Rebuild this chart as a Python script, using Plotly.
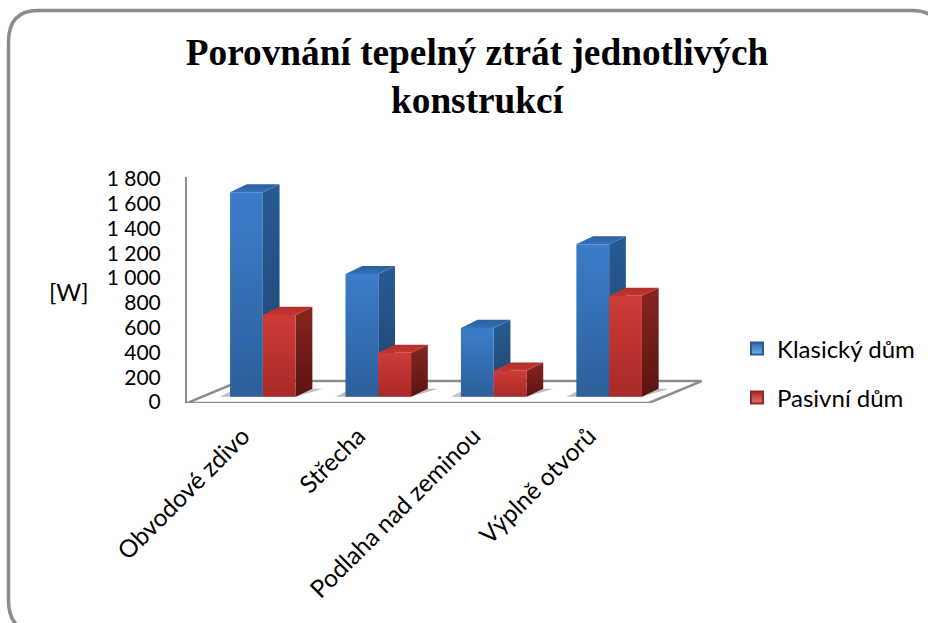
import plotly.graph_objects as go

# Data
categories = ["Obvodové zdivo", "Střecha", "Podlaha nad zeminou", "Výplně otvorů"]
klasicky = [1650, 990, 555, 1230]
pasivni = [660, 355, 210, 815]
tick_values = [0, 200, 400, 600, 800, 1000, 1200, 1400, 1600, 1800]
tick_labels = ["0", "200", "400", "600", "800", "1 000", "1 200", "1 400", "1 600", "1 800"]

W, H = 928, 623
LEFT, RIGHT, TOP, BOTTOM = 187, 718, 177, 403
XR = [-0.5, 4.1]
YR = [-16, 1808]
GREY = "#8c8c8c"

# fake 3D: depth of a bar, and where its front plane sits on the floor
BAR_W = 0.284
BAR_DX, BAR_DY = 0.145, 65
BASE_DX, BASE_Y = 0.157, 35
# floor depth
FLOOR_DX, FLOOR_DY = 0.459, 177


def px(x):
    return (x - LEFT) / (RIGHT - LEFT)


def py(y):
    return (BOTTOM - y) / (BOTTOM - TOP)


def poly(fig, xs, ys, top_col, bot_col):
    fig.add_trace(go.Scatter(
        x=xs + xs[:1], y=ys + ys[:1], mode="lines", fill="toself",
        line=dict(width=0), showlegend=False, hoverinfo="skip",
        fillgradient=dict(type="vertical", colorscale=[[0, bot_col], [1, top_col]]),
    ))


def bar3d(fig, i, offset, value, cols):
    x0 = i + BASE_DX + offset
    x1 = x0 + BAR_W
    y0 = BASE_Y
    y1 = BASE_Y + value
    # side
    poly(fig, [x1, x1 + BAR_DX, x1 + BAR_DX, x1],
         [y0, y0 + BAR_DY, y1 + BAR_DY, y1], cols["side"][0], cols["side"][1])
    # top
    poly(fig, [x0, x1, x1 + BAR_DX, x0 + BAR_DX],
         [y1, y1, y1 + BAR_DY, y1 + BAR_DY], cols["top"][0], cols["top"][1])
    # front
    poly(fig, [x0, x1, x1, x0], [y0, y0, y1, y1], cols["front"][0], cols["front"][1])


blue = {"front": ("#3b7dca", "#2c5f9b"), "side": ("#285b94", "#1e4570"), "top": ("#2a609f", "#3271b8")}
red = {"front": ("#cd3b37", "#a92a27"), "side": ("#87251f", "#5b1512"), "top": ("#b52e2a", "#c4352f")}

fig = go.Figure()

# floor
fig.add_trace(go.Scatter(
    x=[-0.5, 3.5, 3.5 + FLOOR_DX, -0.5 + FLOOR_DX, -0.5],
    y=[YR[0], YR[0], YR[0] + FLOOR_DY, YR[0] + FLOOR_DY, YR[0]],
    mode="lines", line=dict(color=GREY, width=2.5), showlegend=False, hoverinfo="skip",
))

# shadows on the floor
for i in range(len(categories)):
    sx = [i + BASE_DX - BAR_W - 0.087, i + BASE_DX + BAR_W, i + BASE_DX + BAR_W + BAR_DX + 0.09,
          i + BASE_DX - BAR_W + 0.05]
    sy = [BASE_Y, BASE_Y, BASE_Y + BAR_DY, BASE_Y + BAR_DY]
    fig.add_trace(go.Scatter(
        x=sx + sx[:1], y=sy + sy[:1], mode="lines", fill="toself", line=dict(width=0),
        fillcolor="rgba(110,110,110,0.45)", showlegend=False, hoverinfo="skip",
    ))

for i in range(len(categories)):
    bar3d(fig, i, -BAR_W, klasicky[i], blue)
    bar3d(fig, i, 0, pasivni[i], red)

# legend keys
fig.add_trace(go.Scatter(
    x=[None], y=[None], mode="markers", name="Klasický dům", legend="legend",
    marker=dict(symbol="square", size=16, color="#2f66a8", line=dict(color="#2a5a96", width=1),
                gradient=dict(type="vertical", color="#6fb5ee")),
))
fig.add_trace(go.Scatter(
    x=[None], y=[None], mode="markers", name="Pasivní dům", legend="legend2",
    marker=dict(symbol="square", size=16, color="#a52b28", line=dict(color="#962624", width=1),
                gradient=dict(type="vertical", color="#ee6f6b")),
))

legend_font = dict(family="Lato", size=24, color="#000000")
frame = "M {a} {b} L {a} {c} Q {a} {d} {e} {d} L {f} {d} Q {g} {d} {g} {c} L {g} {h} Q {g} {i} {f} {i} L {e} {i} Q {a} {i} {a} {b} Z".format(
    a=px(8.5), b=py(600), c=py(42), d=py(10.5), e=px(38), f=px(912), g=px(942), h=py(610), i=py(632),
)

fig.update_layout(
    width=W, height=H,
    margin=dict(l=LEFT, r=W - RIGHT, t=TOP, b=H - BOTTOM, pad=0, autoexpand=False),
    paper_bgcolor="white", plot_bgcolor="rgba(0,0,0,0)",
    title=dict(
        text="Porovnání tepelný ztrát jednotlivých<br>konstrukcí",
        x=477 / W, xanchor="center", xref="container",
        y=1 - 65 / H, yanchor="middle", yref="container",
        font=dict(family="Liberation Serif", size=37.3, color="#000000", weight="bold"),
    ),
    xaxis=dict(
        range=XR, showgrid=False, zeroline=False, showline=False,
        tickmode="array", tickvals=list(range(len(categories))), ticktext=categories,
        tickangle=-45, ticks="", tickfont=dict(family="Lato", size=24.5, color="#000000"),
        ticklabelstandoff=13, ticklabelshift=-2,
    ),
    yaxis=dict(
        range=YR, showgrid=False, zeroline=False, showline=True, linecolor=GREY, linewidth=2,
        tickmode="array", tickvals=tick_values, ticktext=tick_labels, ticks="",
        tickfont=dict(family="Lato", size=21, color="#000000"),
        ticklabelstandoff=20, ticklabelshift=1,
    ),
    legend=dict(x=px(737), y=py(349), xanchor="left", yanchor="middle", font=legend_font,
                bgcolor="rgba(0,0,0,0)", itemsizing="constant"),
    legend2=dict(x=px(737), y=py(398), xanchor="left", yanchor="middle", font=legend_font,
                 bgcolor="rgba(0,0,0,0)", itemsizing="constant"),
    annotations=[dict(
        text="[W]", xref="paper", yref="paper", x=px(69), y=py(291), xanchor="center",
        showarrow=False, font=dict(family="Lato", size=24, color="#000000"),
    )],
    # outer rounded frame, runs off the right and bottom of the image
    shapes=[dict(
        type="path", xref="paper", yref="paper", layer="below",
        line=dict(color=GREY, width=3.5), path=frame,
    )],
)

fig.write_html("out.html", config=dict(displayModeBar=False), post_script="document.body.style.margin='0'")
